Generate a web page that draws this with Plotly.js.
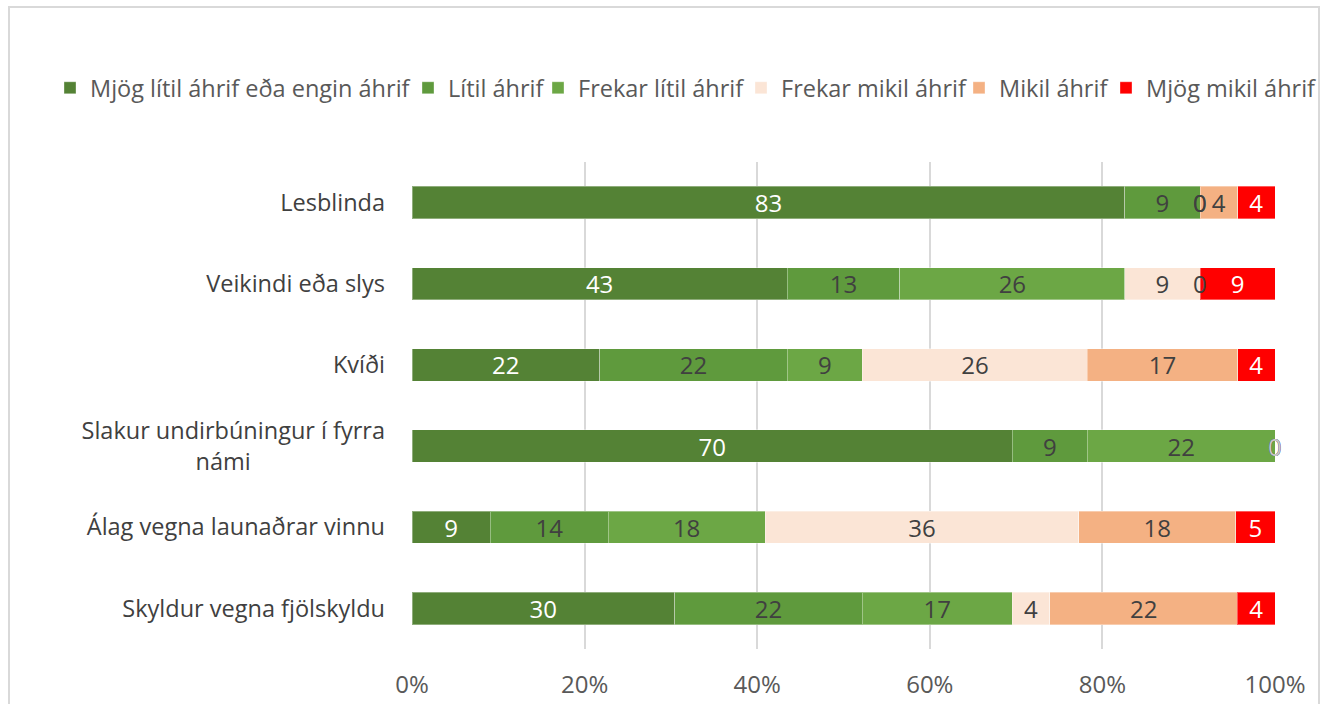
<!DOCTYPE html>
<html>
<head>
<meta charset="utf-8">
<script src="https://cdn.plot.ly/plotly-3.0.1.min.js"></script>
<style>
  html, body { margin: 0; padding: 0; background: #ffffff; }
  #frame { position: absolute; left: 8px; top: 6px; width: 1312px; height: 760px; border: 2px solid #d9d9d9; box-sizing: border-box; }
  #chart { position: absolute; left: 0; top: 0; width: 1330px; height: 704px; }
</style>
</head>
<body>
<div id="frame"></div>
<div id="chart"></div>
<script>
// Categories (top to bottom)
const categories = [
  "Lesblinda",
  "Veikindi eða slys",
  "Kvíði",
  "Slakur undirbúningur í fyrra námi",
  "Álag vegna launaðrar vinnu",
  "Skyldur vegna fjölskyldu"
];
// Tick labels as drawn (second line of the long label roughly centred)
const categoryLabels = [
  "Lesblinda",
  "Veikindi eða slys",
  "Kvíði",
  "Slakur undirbúningur í fyrra<br>námi\u00A0\u00A0\u00A0\u00A0\u00A0\u00A0\u00A0\u00A0\u00A0\u00A0\u00A0\u00A0\u00A0\u00A0\u00A0\u00A0\u00A0\u00A0\u00A0\u00A0\u00A0\u00A0",
  "Álag vegna launaðrar vinnu",
  "Skyldur vegna fjölskyldu"
];

const seriesNames = [
  "Mjög lítil áhrif eða engin áhrif",
  "Lítil áhrif",
  "Frekar lítil áhrif",
  "Frekar mikil áhrif",
  "Mikil áhrif",
  "Mjög mikil áhrif"
];

// Percent values per series, in category order
const mjogLitil   = [82.61, 43.48, 21.74, 69.57,  9.09, 30.43];
const litil       = [ 8.70, 13.04, 21.74,  8.70, 13.64, 21.74];
const frekarLitil = [ 0.00, 26.09,  8.70, 21.74, 18.18, 17.39];
const frekarMikil = [ 0.00,  8.70, 26.09,  0.00, 36.36,  4.35];
const mikil       = [ 4.35,  0.00, 17.39,  0.00, 18.18, 21.74];
const mjogMikil   = [ 4.35,  8.70,  4.35,  0.00,  4.55,  4.35];

const tickVals   = [0, 20, 40, 60, 80, 100];
const tickLabels = ["0%", "20%", "40%", "60%", "80%", "100%"];

const seriesValues = [mjogLitil, litil, frekarLitil, frekarMikil, mikil, mjogMikil];
const colors = ["#548235", "#5f9a3d", "#6ca745", "#fbe5d6", "#f4b183", "#ff0000"];
const labelColors = ["#ffffff", "#404040", "#404040", "#404040", "#404040", "#ffffff"];
const zeroLabelColors = ["#ffffff", "#404040", "#404040", "#404040", "#404040", "#c8c8c8"];
// left edge of each legend entry's text, in page pixels
const legendTextX = [90, 448, 578, 781, 999, 1146];

const FONT = "'Open Sans', 'Noto Sans', sans-serif";
const legendIds = ["legend", "legend2", "legend3", "legend4", "legend5", "legend6"];

const traces = seriesValues.map((vals, i) => ({
  type: "bar",
  orientation: "h",
  name: seriesNames[i],
  legend: legendIds[i],
  y: categories,
  x: vals,
  text: vals.map(v => v > 0 ? Math.round(v).toString() : ""),
  textposition: "inside",
  insidetextanchor: "middle",
  textangle: 0,
  constraintext: "none",
  insidetextfont: { family: FONT, size: 24, color: labelColors[i] },
  marker: { color: colors[i], line: { color: "rgba(255,255,255,0.35)", width: 1 } },
  hoverinfo: "name+x"
}));

// zero-value labels drawn at the stack position
const annotations = [];
categories.forEach((cat, ci) => {
  let cum = 0;
  seriesValues.forEach((vals, si) => {
    if (vals[ci] === 0) {
      annotations.push({
        x: Math.min(cum, 100), y: cat, xref: "x", yref: "y",
        text: "0", showarrow: false, xanchor: "center",
        font: { family: FONT, size: 24, color: zeroLabelColors[si] }
      });
    }
    cum += vals[ci];
  });
});

const layout = {
  width: 1330,
  height: 704,
  margin: { l: 412, r: 55, t: 162, b: 55, autoexpand: false },
  paper_bgcolor: "rgba(0,0,0,0)",
  plot_bgcolor: "rgba(0,0,0,0)",
  barmode: "stack",
  bargap: 0.6,
  showlegend: true,
  xaxis: {
    range: [0, 100],
    tickvals: tickVals,
    ticktext: tickLabels,
    showgrid: true,
    gridcolor: "#d9d9d9",
    gridwidth: 2,
    zeroline: false,
    showline: false,
    ticks: "",
    ticklabelstandoff: 19,
    tickfont: { family: FONT, size: 24, color: "#595959" },
    fixedrange: true
  },
  yaxis: {
    autorange: "reversed",
    tickvals: categories,
    ticktext: categoryLabels,
    showgrid: false,
    zeroline: false,
    showline: false,
    ticks: "",
    ticklabelstandoff: 26,
    tickfont: { family: FONT, size: 23.5, color: "#404040" },
    fixedrange: true
  },
  annotations: annotations
};

legendIds.forEach((id, i) => {
  layout[id] = {
    orientation: "h",
    xref: "container", yref: "container",
    x: (legendTextX[i] - 40) / 1330, y: 1 - 88 / 704,
    xanchor: "left", yanchor: "middle",
    font: { family: FONT, size: 23.5, color: "#595959" },
    itemwidth: 30,
    bgcolor: "rgba(0,0,0,0)",
    borderwidth: 0
  };
});

Plotly.newPlot("chart", traces, layout, { displayModeBar: false, staticPlot: true });
</script>
</body>
</html>
